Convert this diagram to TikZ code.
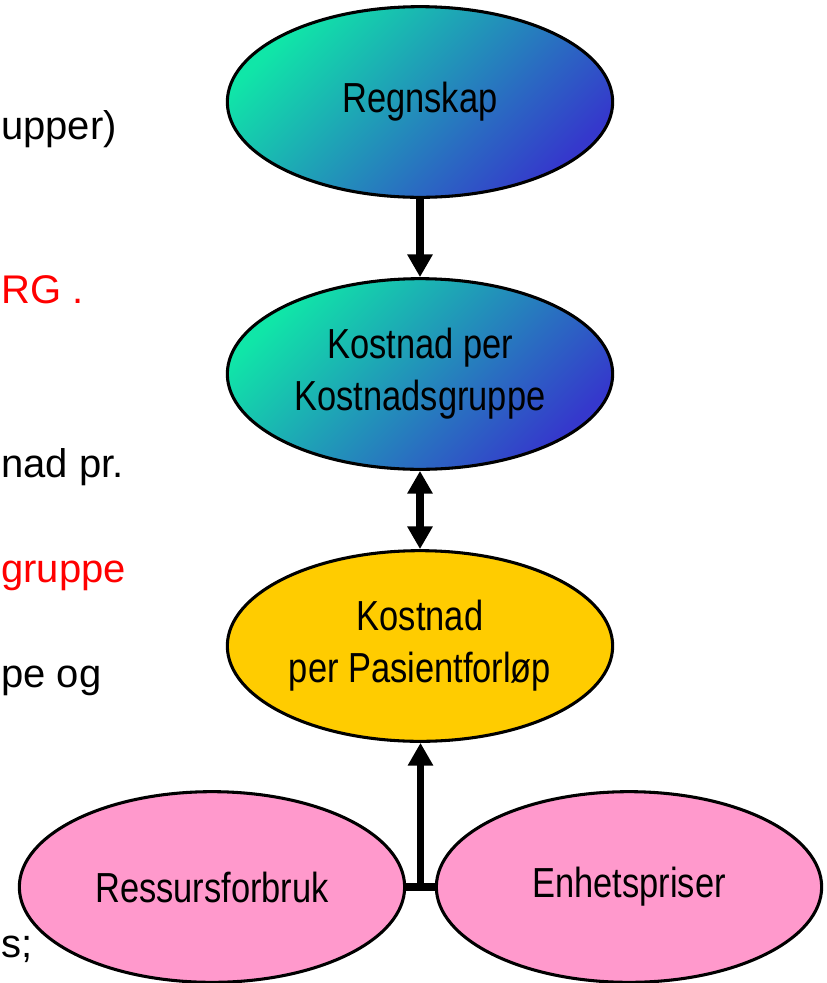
\documentclass[tikz,border=0pt]{standalone}
\usepackage{fontspec}
\setmainfont{Liberation Sans}
\newfontfamily\narrowfont[FakeStretch=0.82]{Liberation Sans}
\usetikzlibrary{arrows.meta,positioning,shapes.geometric,calc}
\definecolor{tealtop}{HTML}{10E6A8}
\definecolor{bluebot}{HTML}{3538CC}
\definecolor{gold}{HTML}{FFCC00}
\definecolor{pink}{HTML}{FF99CC}
\definecolor{textred}{HTML}{FF0000}

\tikzset{
  oval/.style={ellipse,draw=black,line width=2.3pt,inner sep=0pt,
    minimum width=289pt,minimum height=143pt,align=center,
    font=\narrowfont\fontsize{31.5}{39}\selectfont},
  tealoval/.style={oval,top color=tealtop,bottom color=bluebot,shading angle=45},
  goldoval/.style={oval,fill=gold},
  pinkoval/.style={oval,fill=pink},
  flow/.style={line width=5.5pt,-{Triangle[length=17pt,width=18pt]}},
  sidetext/.style={anchor=base west,inner sep=0pt,font=\fontsize{30}{36}\selectfont}
}

\begin{document}
\begin{tikzpicture}[x=0.75pt,y=-0.75pt]
  \useasboundingbox (0,0) rectangle (826,983);

  % Left: text fragments at the page edge.
  \node[sidetext] (frag1) at (1,139) {upper)};
  \node[sidetext,text=textred] (frag2) at (1,303) {RG .};
  \node[sidetext] (frag3) at (1,477) {nad pr.};
  \node[sidetext,text=textred] (frag4) at (1,582) {gruppe};
  \node[sidetext] (frag5) at (1,687) {pe og};
  \node[sidetext] (frag6) at (1,957) {s;};

  % Right: cost chain.
  \node[tealoval] (regnskap) at (420,102) {Regnskap};
  \node[tealoval] (kostgruppe) at (420,374) {Kostnad per\\Kostnadsgruppe};
  \node[goldoval] (kostforlop) at (420,646) {Kostnad\\per Pasientforløp};
  \node[pinkoval] (ressurs) at (212,887) {Ressursforbruk};
  \node[pinkoval] (enhet) at (629,887) {Enhetspriser};

  \draw[flow] (regnskap.south) -- (kostgruppe.north);
  \draw[flow,{Triangle[length=17pt,width=18pt]}-{Triangle[length=17pt,width=18pt]}]
    (kostgruppe.south) -- (kostforlop.north);
  \coordinate (join) at ($(ressurs.east)!0.5!(enhet.west)$);
  \draw[flow] (join) -- (join |- kostforlop.south);
  \draw[line width=5.5pt] (ressurs.east) -- (enhet.west);
\end{tikzpicture}
\end{document}
